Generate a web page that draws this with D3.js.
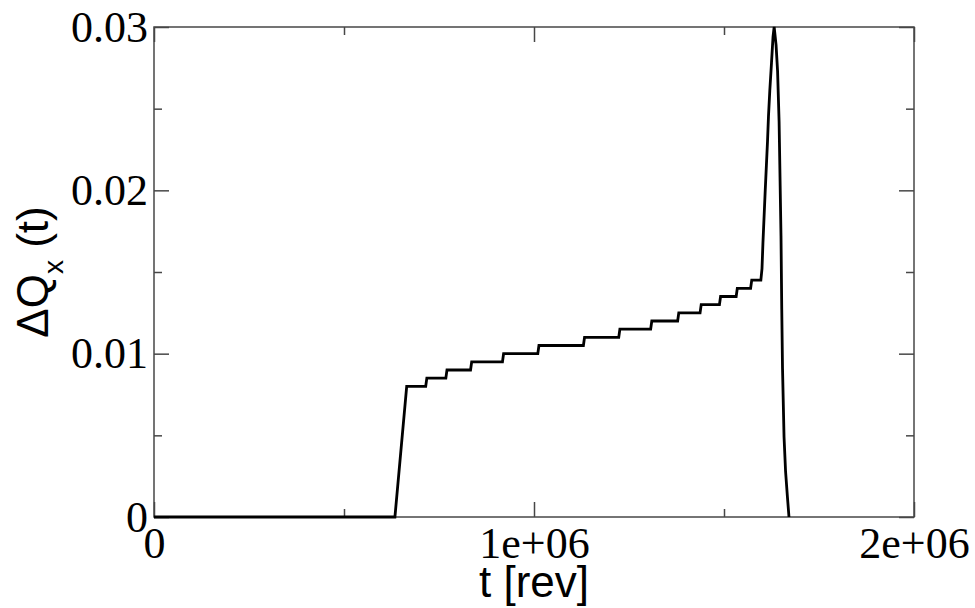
<!DOCTYPE html>
<html>
<head>
<meta charset="utf-8">
<script src="https://cdn.jsdelivr.net/npm/d3@7"></script>
<style>
  body { margin: 0; background: #fff; }
</style>
</head>
<body>
<div id="chart"></div>
<script>
// time in revolutions
const tValues = [
  0, 634000, 665000, 715000, 718000, 768000, 771000, 833000, 836000, 917000,
  920000, 1010000, 1013000, 1130000, 1133000, 1223000, 1226000, 1307000, 1310000, 1378000,
  1381000, 1437000, 1440000, 1488000, 1491000, 1532000, 1535000, 1570000, 1573000, 1597000,
  1600000, 1602500, 1605500, 1608500, 1611500, 1614500, 1617000, 1620500, 1625000, 1629000,
  1632000, 1637000, 1641000, 1645000, 1650000, 1652000, 1654000, 1658000, 1662000, 1667000,
  1671000
];
// tune shift
const dqValues = [
  0, 0, 0.008, 0.008, 0.0085, 0.0085, 0.009, 0.009, 0.0095, 0.0095,
  0.010, 0.010, 0.0105, 0.0105, 0.011, 0.011, 0.0115, 0.0115, 0.012, 0.012,
  0.0125, 0.0125, 0.013, 0.013, 0.0135, 0.0135, 0.014, 0.014, 0.0145, 0.0145,
  0.0152, 0.0168, 0.0184, 0.0200, 0.0215, 0.0230, 0.0245, 0.0261, 0.0278, 0.0294,
  0.0300, 0.0289, 0.0273, 0.0242, 0.0172, 0.0127, 0.0091, 0.0049, 0.0028, 0.0012,
  0
];

const xMajor = [0, 1e6, 2e6];
const xMinor = [5e5, 1.5e6];
const yMajor = [0, 0.01, 0.02, 0.03];
const yMinor = [0.005, 0.015, 0.025];
const xTickLabels = ["0", "1e+06", "2e+06"];
const yTickLabels = ["0", "0.01", "0.02", "0.03"];

const width = 975, height = 608;
const margin = {top: 27, right: 61, bottom: 91, left: 154};
const frameColor = "#474747";

const x = d3.scaleLinear().domain([0, 2e6]).range([margin.left, width - margin.right]);
const y = d3.scaleLinear().domain([0, 0.03]).range([height - margin.bottom, margin.top]);

const svg = d3.select("#chart").append("svg")
  .attr("width", width)
  .attr("height", height);

// inward ticks on all four sides
const sides = [
  [() => d3.axisBottom(x), xMajor, xMinor, `translate(0,${y(0)})`],
  [() => d3.axisTop(x), xMajor, xMinor, `translate(0,${y(0.03)})`],
  [() => d3.axisLeft(y), yMajor, yMinor, `translate(${x(0)},0)`],
  [() => d3.axisRight(y), yMajor, yMinor, `translate(${x(2e6)},0)`]
];
sides.forEach(([makeAxis, major, minor, tr]) => {
  [[major, 15], [minor, 8]].forEach(([vals, size]) => {
    svg.append("g")
      .attr("transform", tr)
      .call(makeAxis().tickValues(vals).tickSize(-size).tickFormat(""))
      .call(g => g.select(".domain").remove())
      .call(g => g.selectAll("line").attr("stroke", frameColor).attr("stroke-width", 1.5));
  });
});

// tick labels
svg.append("g")
  .attr("transform", `translate(0,${y(0)})`)
  .call(d3.axisBottom(x).tickValues(xMajor).tickSize(0).tickPadding(10)
    .tickFormat((d, i) => xTickLabels[i]))
  .call(g => g.select(".domain").remove())
  .call(g => g.selectAll("text")
    .attr("font-family", "Liberation Serif, Times New Roman, serif")
    .attr("font-size", 44).attr("fill", "#000"));

svg.append("g")
  .attr("transform", `translate(${x(0)},0)`)
  .call(d3.axisLeft(y).tickValues(yMajor).tickSize(0).tickPadding(6)
    .tickFormat((d, i) => yTickLabels[i]))
  .call(g => g.select(".domain").remove())
  .call(g => g.selectAll("text")
    .attr("font-family", "Liberation Serif, Times New Roman, serif")
    .attr("font-size", 44).attr("fill", "#000"));

// frame
svg.append("rect")
  .attr("x", x(0))
  .attr("y", y(0.03))
  .attr("width", x(2e6) - x(0))
  .attr("height", y(0) - y(0.03))
  .attr("fill", "none")
  .attr("stroke", frameColor)
  .attr("stroke-width", 1.5);

// curve
const line = d3.line()
  .x((d, i) => x(tValues[i]))
  .y(d => y(d));

svg.append("path")
  .datum(dqValues)
  .attr("fill", "none")
  .attr("stroke", "#000")
  .attr("stroke-width", 2.8)
  .attr("stroke-linejoin", "miter")
  .attr("d", line);

// axis titles
svg.append("text")
  .attr("x", (x(0) + x(2e6)) / 2)
  .attr("y", 597)
  .attr("text-anchor", "middle")
  .attr("font-family", "Liberation Sans, Arial, sans-serif")
  .attr("font-size", 44)
  .text("t [rev]");

const yTitle = svg.append("text")
  .attr("transform", `translate(48,${(y(0) + y(0.03)) / 2}) rotate(-90)`)
  .attr("text-anchor", "middle")
  .attr("font-family", "Liberation Sans, Arial, sans-serif")
  .attr("font-size", 44);
yTitle.append("tspan").text("ΔQ");
yTitle.append("tspan").attr("font-size", 28).attr("dy", 15).text("x");
yTitle.append("tspan").attr("dy", -15).text(" (t)");
</script>
</body>
</html>
